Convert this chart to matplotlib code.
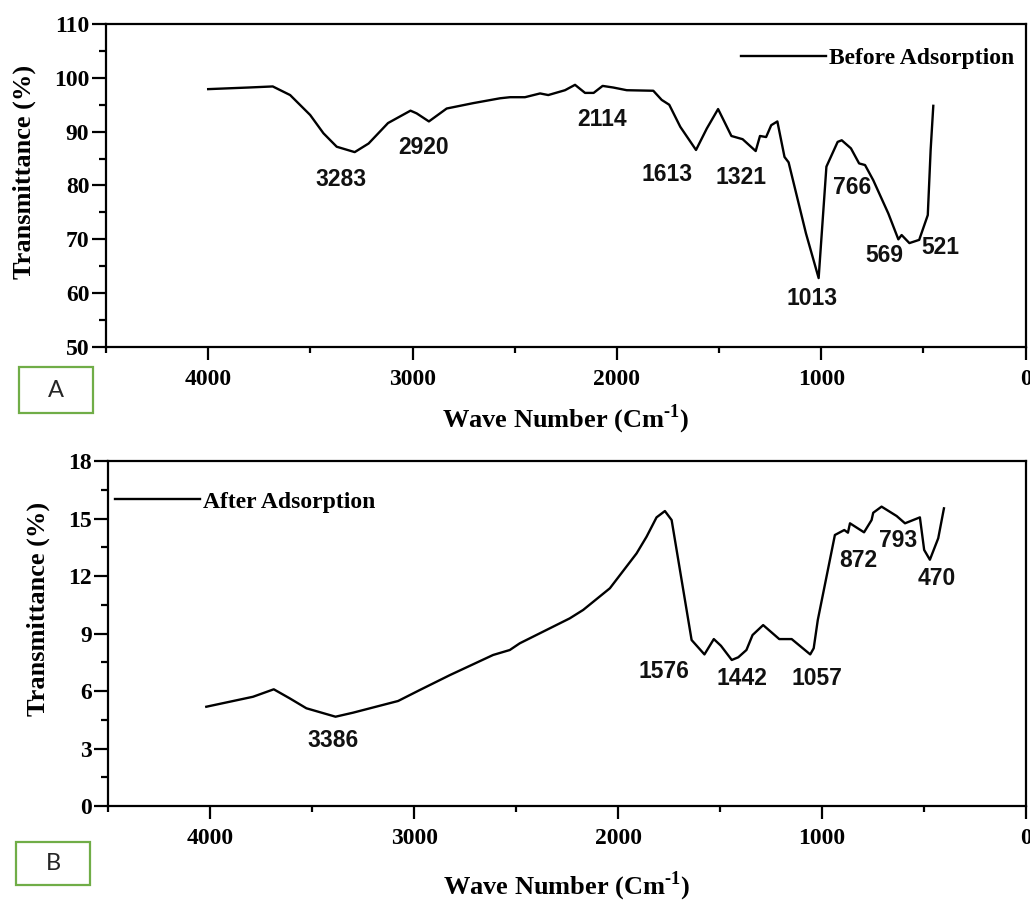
from __future__ import annotations

import matplotlib

matplotlib.use("Agg")
import matplotlib.pyplot as plt
import numpy as np
from matplotlib.patches import Rectangle
from matplotlib.ticker import MultipleLocator

# FTIR spectrum before adsorption (wave number in cm-1, transmittance in %)
wn_before = [4000, 3803, 3684, 3599, 3501, 3436, 3371, 3283, 3215, 3120,
             3010, 2980, 2920, 2833, 2703, 2572, 2523, 2450, 2376, 2336,
             2254, 2205, 2156, 2114, 2070, 2018, 1952, 1822, 1781, 1744,
             1690, 1613, 1560, 1505, 1475, 1440, 1385, 1321, 1300, 1270,
             1245, 1215, 1180, 1160, 1075, 1013, 975, 920, 900, 855,
             815, 786, 746, 672, 623, 607, 569, 521, 479, 465,
             452]
t_before = [97.9, 98.2, 98.4, 96.8, 93.1, 89.7, 87.2, 86.2, 87.8, 91.6,
            93.9, 93.4, 91.9, 94.3, 95.3, 96.2, 96.4, 96.4, 97.1, 96.8,
            97.7, 98.7, 97.2, 97.2, 98.5, 98.2, 97.7, 97.6, 95.9, 95.0,
            90.9, 86.6, 90.6, 94.2, 91.9, 89.2, 88.6, 86.4, 89.2, 89.0,
            91.2, 91.9, 85.3, 84.3, 71.1, 62.8, 83.5, 88.1, 88.4, 86.9,
            84.1, 83.8, 81.0, 74.8, 70.0, 70.8, 69.3, 69.9, 74.5, 86.6,
            94.8]
peaks_before = [3283, 2920, 2114, 1613, 1321, 1013, 766, 569, 521]

# FTIR spectrum after adsorption
wn_after = [4020, 3791, 3689, 3611, 3529, 3386, 3300, 3079, 2973, 2825,
            2613, 2531, 2482, 2237, 2171, 2040, 1909, 1860, 1811, 1770,
            1737, 1639, 1576, 1530, 1495, 1442, 1410, 1370, 1340, 1288,
            1209, 1148, 1057, 1040, 1020, 936, 890, 872, 862, 793,
            756, 748, 707, 633, 592, 519, 498, 470, 429, 401]
t_after = [5.18, 5.70, 6.09, 5.62, 5.10, 4.66, 4.87, 5.48, 6.05, 6.83,
           7.88, 8.14, 8.49, 9.79, 10.23, 11.36, 13.18, 14.05, 15.06, 15.39,
           14.92, 8.66, 7.91, 8.71, 8.36, 7.62, 7.76, 8.14, 8.92, 9.44,
           8.71, 8.71, 7.91, 8.23, 9.70, 14.14, 14.40, 14.26, 14.75, 14.28,
           14.92, 15.30, 15.62, 15.13, 14.75, 15.06, 13.36, 12.85, 13.97, 15.53]
peaks_after = [3386, 1576, 1442, 1057, 872, 793, 470]

# label offsets from each peak, in points
offsets_before = [(-10, -20), (-3.5, -19), (6, -19), (-20.5, -18), (-10.6, -18.7),
                  (-4.4, -15), (-12.3, -10.4), (-17.9, -8.6), (15.3, -5.8)]
offsets_after = [(-1.8, -16.8), (-29.2, -12), (7.3, -13.5), (4.6, -17),
                 (7.8, -20), (24.4, -5.9), (4.6, -13.2)]

SERIF = "Liberation Serif"
SANS = "Liberation Sans"
XLABEL = r"Wave Number (Cm$^{\text{-}1}$)"

plt.rcParams["mathtext.fontset"] = "custom"
plt.rcParams["mathtext.rm"] = "Liberation Serif:bold"
plt.rcParams["mathtext.bf"] = "Liberation Serif:bold"


def style_axes(ax, ymin: float, ymax: float, ystep: float) -> None:
    ax.set_xlim(4500, 0)
    ax.set_ylim(ymin, ymax)
    ax.xaxis.set_major_locator(MultipleLocator(1000))
    ax.xaxis.set_minor_locator(MultipleLocator(500))
    ax.yaxis.set_major_locator(MultipleLocator(ystep))
    ax.yaxis.set_minor_locator(MultipleLocator(ystep / 2))
    for side in ax.spines.values():
        side.set_linewidth(1.6)
    ax.tick_params(axis="x", which="major", direction="out", length=9, width=1.6, pad=7)
    ax.tick_params(axis="x", which="minor", direction="out", length=4.5, width=1.6)
    ax.tick_params(axis="y", which="major", direction="out", length=10, width=1.6, pad=2)
    ax.tick_params(axis="y", which="minor", direction="out", length=5, width=1.6)
    for lab in ax.get_xticklabels() + ax.get_yticklabels():
        lab.set_fontfamily(SERIF)
        lab.set_fontweight("bold")
        lab.set_fontsize(17)
    ax.set_ylabel("Transmittance (%)", fontfamily=SERIF, fontweight="bold", fontsize=19)
    ax.set_xlabel(XLABEL, fontfamily=SERIF, fontweight="bold", fontsize=19)


def label_peaks(ax, wn, t, peaks, offsets) -> None:
    x = np.array(wn[::-1], dtype=float)
    y = np.array(t[::-1], dtype=float)
    for peak, (dx, dy) in zip(peaks, offsets):
        ax.annotate(str(peak), xy=(peak, np.interp(peak, x, y)), xytext=(dx, dy),
                    textcoords="offset points", ha="center", va="center",
                    fontfamily=SANS, fontweight="bold", fontsize=16.5, color="#111111")


def add_tag(fig, x0: float, y0: float, w: float, h: float, letter: str) -> None:
    fig.patches.append(Rectangle((x0, y0), w, h, transform=fig.transFigure,
                                 facecolor="white", edgecolor="#70ad47", linewidth=1.6))
    fig.text(x0 + w / 2, y0 + h / 2, letter, ha="center", va="center",
             fontfamily="Lato", fontsize=17, color="#262626")


def main() -> None:
    fig = plt.figure(figsize=(10.3, 9.02), dpi=100)
    fig.patch.set_facecolor("white")

    ax1 = fig.add_axes([0.1029, 0.6153, 0.8929, 0.3581])
    ax1.plot(wn_before, t_before, color="black", linewidth=1.7, label="Before Adsorption")
    style_axes(ax1, 50, 110, 10)
    ax1.yaxis.set_label_coords(-0.076, 0.542)
    ax1.xaxis.set_label_coords(0.50, -0.173)
    label_peaks(ax1, wn_before, t_before, peaks_before, offsets_before)
    ax1.legend(loc="upper left", bbox_to_anchor=(0.690, 0.928), frameon=False,
               handlelength=3.6, handletextpad=0.15, borderpad=0, borderaxespad=0,
               prop={"family": SERIF, "weight": "bold", "size": 17})

    ax2 = fig.add_axes([0.1053, 0.1064, 0.8905, 0.3825])
    ax2.plot(wn_after, t_after, color="black", linewidth=1.7, label="After Adsorption")
    style_axes(ax2, 0, 18, 3)
    ax2.yaxis.set_label_coords(-0.064, 0.571)
    ax2.xaxis.set_label_coords(0.50, -0.184)
    label_peaks(ax2, wn_after, t_after, peaks_after, offsets_after)
    ax2.legend(loc="upper left", bbox_to_anchor=(0.007, 0.913), frameon=False,
               handlelength=3.6, handletextpad=0.15, borderpad=0, borderaxespad=0,
               prop={"family": SERIF, "weight": "bold", "size": 17})

    add_tag(fig, 0.0184, 0.5421, 0.0718, 0.0510, "A")
    add_tag(fig, 0.0155, 0.0188, 0.0718, 0.0477, "B")

    fig.savefig("out.png", dpi=100)
    plt.close(fig)


if __name__ == "__main__":
    main()
